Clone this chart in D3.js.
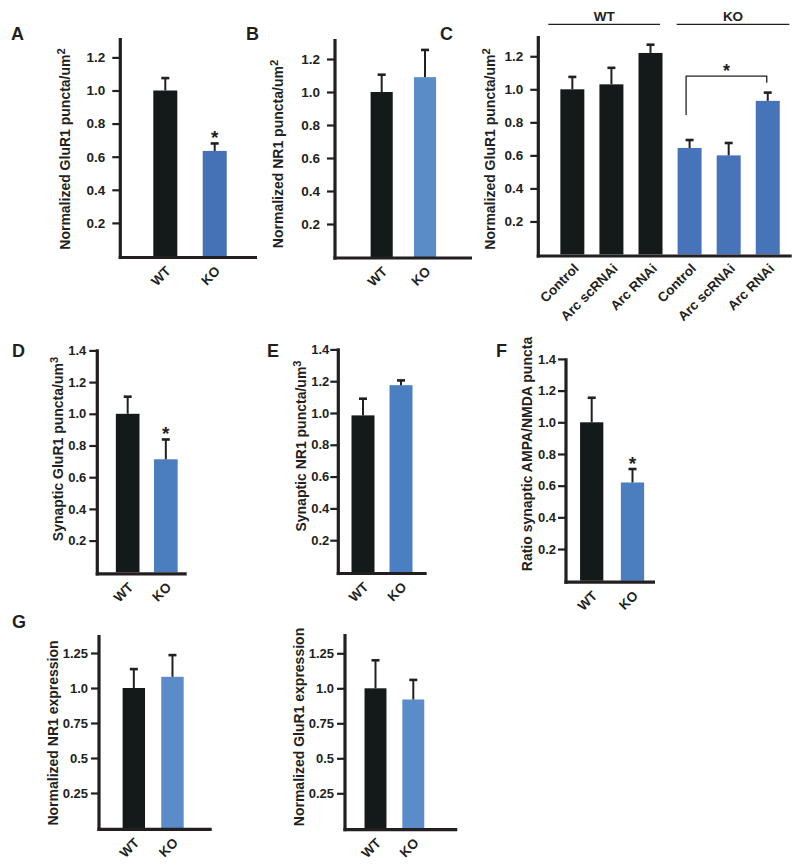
<!DOCTYPE html>
<html><head><meta charset="utf-8">
<script src="https://cdn.jsdelivr.net/npm/d3@7"></script>
<style>
body{margin:0;background:#fff}
svg{display:block}
text{font-family:"Liberation Sans",Arial,Helvetica,sans-serif;font-weight:bold;fill:#231f20}
</style>
</head><body>
<svg id="fig" width="800" height="865"></svg>
<script>
// ---------- data ----------
const genotypes = ["WT", "KO"];
const treatments = ["Control", "Arc scRNAi", "Arc RNAi", "Control", "Arc scRNAi", "Arc RNAi"];
const treatmentGenotype = ["WT", "WT", "WT", "KO", "KO", "KO"];
const groupNames = ["WT", "KO"];

const aMeans = [1.0, 0.635], aSem = [0.075, 0.045];          // GluR1 puncta/um2
const bMeans = [1.0, 1.09],  bSem = [0.105, 0.165];          // NR1 puncta/um2
const cMeans = [1.0, 1.03, 1.22, 0.645, 0.60, 0.93];         // GluR1 puncta/um2, Arc RNAi
const cSem   = [0.075, 0.10, 0.05, 0.048, 0.075, 0.05];
const dMeans = [1.0, 0.713], dSem = [0.108, 0.125];          // synaptic GluR1
const eMeans = [0.985, 1.175], eSem = [0.105, 0.03];         // synaptic NR1
const fMeans = [1.0, 0.62],  fSem = [0.155, 0.085];          // ratio AMPA/NMDA
const gNr1Means = [1.0, 1.08],  gNr1Sem = [0.135, 0.155];    // NR1 expression
const gGluMeans = [1.0, 0.92],  gGluSem = [0.20, 0.14];      // GluR1 expression

const ticksA = [0.2, 0.4, 0.6, 0.8, 1.0, 1.2];
const tickLabelsA = ["0.2", "0.4", "0.6", "0.8", "1.0", "1.2"];
const ticksD = [0.2, 0.4, 0.6, 0.8, 1.0, 1.2, 1.4];
const tickLabelsD = ["0.2", "0.4", "0.6", "0.8", "1.0", "1.2", "1.4"];
const ticksG = [0.25, 0.5, 0.75, 1.0, 1.25];
const tickLabelsG = ["0.25", "0.5", "0.75", "1.0", "1.25"];

// ---------- drawing ----------
const INK = "#231f20";
const BAR_DARK = "#141a19";
const svg = d3.select("#fig");

function panel(o) {
  const g = svg.append("g");
  const y = d3.scaleLinear().domain([0, 1]).range([o.y0, o.y0 - o.unit]);
  const x = d3.scaleBand().domain(d3.range(o.labels.length)).range(o.xr)
    .paddingInner(o.pi).paddingOuter(o.pi / 2);
  const bw = x.bandwidth();
  const cx = i => x(i) + bw / 2;

  // bars
  g.selectAll("rect.bar").data(o.means).join("rect").attr("class", "bar")
    .attr("x", (d, i) => x(i)).attr("width", bw)
    .attr("y", d => y(d)).attr("height", d => o.y0 - y(d))
    .attr("fill", (d, i) => o.colors[i]);

  // error bars (upper only)
  const eb = g.selectAll("g.err").data(o.means).join("g").attr("class", "err");
  eb.append("line").attr("x1", (d, i) => cx(i)).attr("x2", (d, i) => cx(i))
    .attr("y1", d => y(d)).attr("y2", (d, i) => y(d + o.sem[i]))
    .attr("stroke", INK).attr("stroke-width", 2);
  eb.append("line").attr("x1", (d, i) => cx(i) - 4).attr("x2", (d, i) => cx(i) + 4)
    .attr("y1", (d, i) => y(d + o.sem[i])).attr("y2", (d, i) => y(d + o.sem[i]))
    .attr("stroke", INK).attr("stroke-width", 2.6);

  // stars
  (o.stars || []).forEach(i => {
    g.append("text").attr("x", cx(i)).attr("y", y(o.means[i] + o.sem[i]) + 1)
      .attr("text-anchor", "middle").attr("font-size", 19).attr("font-weight", "normal")
      .text("*");
  });

  // y axis
  const ax = d3.axisLeft(y).tickValues(o.ticks).tickSize(o.tickLen || 8)
    .tickPadding(o.tickPad).tickFormat((d, i) => o.tickLabels[i]);
  const ag = g.append("g").attr("transform", `translate(${o.axX},0)`).call(ax)
    .attr("font-family", null).attr("font-size", null);
  ag.select(".domain").remove();
  ag.selectAll(".tick line").attr("stroke", INK).attr("stroke-width", 2.2);
  ag.selectAll(".tick text").attr("font-size", o.tickFont).attr("fill", INK);

  // axis lines
  g.append("line").attr("x1", o.axX).attr("x2", o.axX).attr("y1", o.top).attr("y2", o.axY + 1.6)
    .attr("stroke", INK).attr("stroke-width", 3.2);
  g.append("line").attr("x1", o.axX - 1.6).attr("x2", o.right).attr("y1", o.axY).attr("y2", o.axY)
    .attr("stroke", INK).attr("stroke-width", 3.2);

  // x labels
  const xa = d3.axisBottom(x).tickSize(0).tickFormat(i => o.labels[i]);
  const xg = g.append("g").attr("transform", `translate(0,${o.axY})`).call(xa)
    .attr("font-family", null).attr("font-size", null);
  xg.select(".domain").remove();
  xg.selectAll(".tick text").attr("font-size", o.xFont || 13.5).attr("fill", INK)
    .attr("text-anchor", "end").attr("y", 0).attr("dy", "0.35em")
    .attr("transform", `translate(${o.xlx || 3},${o.xly || 11}) rotate(-45)`);

  // y title
  const tf = o.titleFont || 14;
  const t = g.append("text").attr("transform", `translate(${o.titleX},${o.titleY}) rotate(-90)`)
    .attr("text-anchor", "middle").attr("dy", "0.35em").attr("font-size", tf);
  t.append("tspan").text(o.title);
  if (o.sup) {
    t.append("tspan").attr("dy", "-0.45em").attr("font-size", tf * 0.8).text(o.sup);
  }

  // panel letter
  if (o.letter) {
    g.append("text").attr("x", o.letterX).attr("y", o.letterY).attr("font-size", 18).text(o.letter);
  }
  return {g, x, y, cx};
}

// A
panel({letter: "A", letterX: 11, letterY: 40,
  means: aMeans, sem: aSem, labels: genotypes, colors: [BAR_DARK, "#4571b7"], stars: [1],
  y0: 256, unit: 165.5, axX: 120.3, axY: 257.5, top: 38, right: 257,
  xr: [140.6, 239.4], pi: 0.514, ticks: ticksA, tickLabels: tickLabelsA, tickPad: 7, tickFont: 13.5,
  title: "Normalized GluR1 puncta/um", sup: "2", titleX: 65, titleY: 149});

// B
panel({letter: "B", letterX: 246, letterY: 40,
  means: bMeans, sem: bSem, labels: genotypes, colors: [BAR_DARK, "#5a8cc8"],
  y0: 257, unit: 165, axX: 335, axY: 258, top: 39, right: 472,
  xr: [360, 446.7], pi: 0.49, ticks: ticksA, tickLabels: tickLabelsA, tickPad: 7, tickFont: 13.5,
  title: "Normalized NR1 puncta/um", sup: "2", titleX: 278, titleY: 154});

// C
const pc = panel({letter: "C", letterX: 440, letterY: 40,
  means: cMeans, sem: cSem, labels: treatments,
  colors: treatmentGenotype.map(gn => gn === "WT" ? BAR_DARK : "#4773b9"),
  y0: 254.5, unit: 165.2, axX: 538.3, axY: 256, top: 36, right: 791.7,
  xr: [552.8, 787.3], pi: 0.386, ticks: ticksA, tickLabels: tickLabelsA, tickPad: 7, tickFont: 13.5,
  title: "Normalized GluR1 puncta/um", sup: "2", titleX: 490, titleY: 149, xlx: 4, xly: 10});

// C group headers
const groupSpans = {WT: [548.3, 660], KO: [676.7, 789.3]};
groupNames.forEach(gn => {
  const [a, b] = groupSpans[gn];
  svg.append("line").attr("x1", a).attr("x2", b).attr("y1", 24.3).attr("y2", 24.3)
    .attr("stroke", INK).attr("stroke-width", 1.2);
  svg.append("text").attr("x", (a + b) / 2).attr("y", 21).attr("text-anchor", "middle")
    .attr("font-size", 13.5).text(gn);
});
// C significance bracket (KO Control vs KO Arc RNAi)
{
  const l = pc.cx(3) - 3.5, r = pc.cx(5) - 1;
  const yt = pc.y(1.08), yl = pc.y(0.845), yr = pc.y(1.04);
  svg.append("path").attr("d", `M${l},${yl}V${yt}H${r}V${yr}`)
    .attr("fill", "none").attr("stroke", INK).attr("stroke-width", 1.3);
  svg.append("text").attr("x", (l + r) / 2).attr("y", yt + 1).attr("text-anchor", "middle")
    .attr("font-size", 18).attr("font-weight", "normal").text("*");
}

// D
panel({letter: "D", letterX: 12, letterY: 357,
  means: dMeans, sem: dSem, labels: genotypes, colors: [BAR_DARK, "#4a7ebf"], stars: [1],
  y0: 572.3, unit: 158.5, axX: 97.3, axY: 573.8, top: 349.3, right: 186.7,
  xr: [108.6, 184.9], pi: 0.38, ticks: ticksD, tickLabels: tickLabelsD, tickPad: 3, tickFont: 13,
  title: "Synaptic GluR1 puncta/um", sup: "3", titleX: 58, titleY: 449});

// E
panel({letter: "E", letterX: 267, letterY: 357,
  means: eMeans, sem: eSem, labels: genotypes, colors: [BAR_DARK, "#4a80c1"],
  y0: 572, unit: 159, axX: 338.3, axY: 573.5, top: 348.3, right: 426.7,
  xr: [344, 420], pi: 0.395, ticks: ticksD, tickLabels: tickLabelsD, tickPad: 1, tickFont: 13,
  title: "Synaptic NR1 puncta/um", sup: "3", titleX: 300.7, titleY: 446});

// F
panel({letter: "F", letterX: 496, letterY: 357,
  means: fMeans, sem: fSem, labels: genotypes, colors: [BAR_DARK, "#4a7ebf"], stars: [1],
  y0: 580.7, unit: 158.4, axX: 566, axY: 582.2, top: 358.3, right: 655,
  xr: [571.3, 652.9], pi: 0.43, ticks: ticksD, tickLabels: tickLabelsD, tickPad: 2, tickFont: 13,
  title: "Ratio synaptic AMPA/NMDA puncta", titleX: 527, titleY: 454});

// G left
panel({letter: "G", letterX: 12, letterY: 628,
  means: gNr1Means, sem: gNr1Sem, labels: genotypes, colors: [BAR_DARK, "#5a8cca"],
  y0: 828, unit: 140, axX: 99, axY: 829.3, top: 635, right: 211.7,
  xr: [114.5, 191.8], pi: 0.42, ticks: ticksG, tickLabels: tickLabelsG, tickPad: 3, tickFont: 13,
  title: "Normalized NR1 expression", titleX: 53.3, titleY: 733});

// G right
panel({
  means: gGluMeans, sem: gGluSem, labels: genotypes, colors: [BAR_DARK, "#5a8cca"],
  y0: 828.3, unit: 140, axX: 345, axY: 829.6, top: 634, right: 457.3,
  xr: [356.6, 432.2], pi: 0.42, ticks: ticksG, tickLabels: tickLabelsG, tickPad: 3, tickFont: 13,
  title: "Normalized GluR1 expression", titleX: 299.3, titleY: 727});
</script>
</body></html>
